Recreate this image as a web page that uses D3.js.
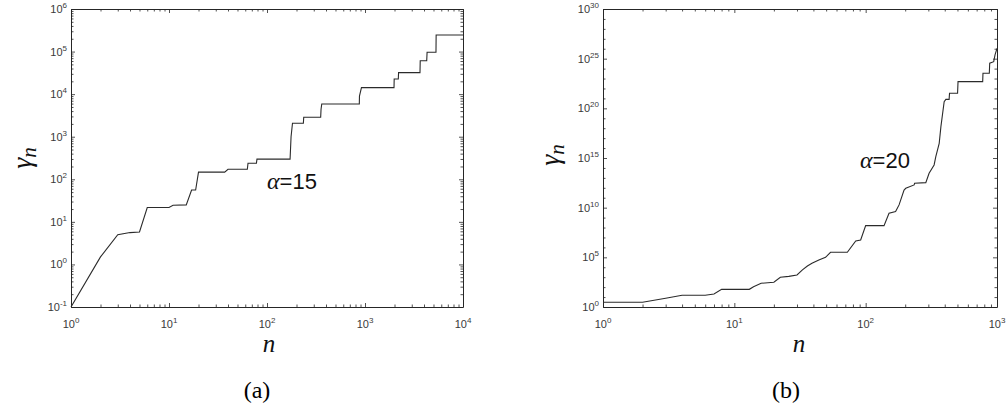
<!DOCTYPE html>
<html>
<head>
<meta charset="utf-8">
<script src="https://d3js.org/d3.v7.min.js"></script>
<style>
body { margin: 0; background: #fff; }
svg { display: block; }
.tick-label { font-family: 'Liberation Sans', Arial, sans-serif; font-size: 11px; fill: #3a3a3a; }
.serif { font-family: 'Liberation Serif', 'Times New Roman', serif; }
</style>
</head>
<body>
<svg width="1006" height="412"></svg>
<script>
// panel (a): alpha = 15
const aN = [1, 2, 3, 4, 5, 6, 10, 11, 15, 17, 18.7, 20, 37, 40, 63, 64, 78, 79, 172, 176, 182, 235, 237, 353, 356, 362, 875, 878, 920, 1977, 1985, 2188, 2200, 3640, 3660, 4264, 4300, 5300, 5320, 10000]
const aGamma = [0.1, 1.5, 5.0, 5.6, 5.8, 21.7, 21.7, 24.5, 25, 56, 56, 147, 147, 172, 172, 239, 239, 297, 297, 1000, 2075, 2075, 2870, 2870, 4420, 5890, 5890, 9000, 14200, 14200, 22750, 22750, 32000, 32000, 61100, 61100, 96400, 96400, 245000, 245000]
const aXTicks = [1, 10, 100, 1000, 10000]
const aYTicks = [1e-1, 1e0, 1e1, 1e2, 1e3, 1e4, 1e5, 1e6]

// panel (b): alpha = 20
const bN = [1, 2, 3, 4, 6, 7, 8, 13, 14, 16, 18, 20, 22.4, 26, 30, 33, 36, 39, 44, 49.5, 54, 72.5, 84, 91.6, 100, 138, 150.6, 169, 179.6, 196, 202, 234, 236, 287, 304, 332, 342, 363, 374, 396, 408, 432, 435, 501, 505, 778, 782, 874, 880, 944, 966, 1000]
const bGamma = [3, 3, 7.5, 15, 15, 20, 60, 60, 110, 245, 280, 310, 980, 1200, 1660, 5400, 13500, 25000, 54000, 1e5, 3.2e5, 3.2e5, 4.5e6, 5.6e6, 1.55e8, 1.55e8, 2.7e9, 4e9, 1.9e10, 6e11, 9e11, 1.95e12, 2.9e12, 3.3e12, 2.9e13, 2e14, 1.4e15, 3e16, 1.45e18, 4.7e20, 8e20, 8e20, 3.3e21, 3.3e21, 4.9e22, 4.9e22, 3.4e23, 3.4e23, 3.5e24, 5e24, 2.4e25, 1.1e26]
const bXTicks = [1, 10, 100, 1000]
const bYTicks = [1e0, 1e5, 1e10, 1e15, 1e20, 1e25, 1e30]

const svg = d3.select('svg')
const axisColor = '#262626'

function exponent(v) { return Math.round(Math.log10(v)) }

function drawPanel(opts) {
	const { left, right, top, bottom, xDomain, yDomain, n, gamma, xTicks, yTicks, yMinor } = opts
	const x = d3.scaleLog().domain(xDomain).range([left, right])
	const y = d3.scaleLog().domain(yDomain).range([bottom, top])

	// minor ticks on x: 2..9 each decade
	const xMinor = []
	for (let e = Math.log10(xDomain[0]); e < Math.log10(xDomain[1]); e++)
		for (let k = 2; k <= 9; k++) xMinor.push(k * Math.pow(10, e))

	const g = svg.append('g')

	const addAxis = (axisFn, scale, ticks, size, tx, ty) => {
		const ax = g.append('g')
			.attr('transform', `translate(${tx},${ty})`)
			.call(axisFn(scale).tickValues(ticks).tickSizeInner(-size).tickSizeOuter(0).tickFormat(''))
		ax.selectAll('line').attr('stroke', axisColor).attr('stroke-width', 0.8)
		ax.select('.domain').attr('stroke', axisColor).attr('stroke-width', 1)
		return ax
	}
	// major + minor, all four sides, ticks inward
	addAxis(d3.axisBottom, x, xTicks, 4, 0, bottom)
	addAxis(d3.axisTop, x, xTicks, 4, 0, top)
	addAxis(d3.axisBottom, x, xMinor, 2.5, 0, bottom).select('.domain').remove()
	addAxis(d3.axisTop, x, xMinor, 2.5, 0, top).select('.domain').remove()
	addAxis(d3.axisLeft, y, yTicks, 4, left, 0)
	addAxis(d3.axisRight, y, yTicks, 4, right, 0)
	addAxis(d3.axisLeft, y, yMinor, 2.5, left, 0).select('.domain').remove()
	addAxis(d3.axisRight, y, yMinor, 2.5, right, 0).select('.domain').remove()

	// tick labels 10^k
	xTicks.forEach(v => {
		const t = g.append('text').attr('class', 'tick-label')
			.attr('x', x(v)).attr('y', bottom + 21).attr('text-anchor', 'middle')
		t.append('tspan').text('10')
		t.append('tspan').attr('dy', -5).style('font-size', '8px').text(exponent(v))
	})
	yTicks.forEach(v => {
		const t = g.append('text').attr('class', 'tick-label')
			.attr('x', left - 4).attr('y', y(v) + 4).attr('text-anchor', 'end')
		t.append('tspan').text('10')
		t.append('tspan').attr('dy', -5).style('font-size', '8px').text(exponent(v))
	})

	const line = d3.line().x(d => x(d[0])).y(d => y(d[1]))
	g.append('path')
		.datum(n.map((v, i) => [v, gamma[i]]))
		.attr('d', line)
		.attr('fill', 'none')
		.attr('stroke', '#2b2b2b')
		.attr('stroke-width', 1.1)

	return { x, y, g }
}

// minor y ticks for (a): 2..9 per decade
const aYMinor = []
for (let e = -1; e < 6; e++) for (let k = 2; k <= 9; k++) aYMinor.push(k * Math.pow(10, e))
// minor y ticks for (b): every decade
const bYMinor = []
for (let e = 1; e < 30; e++) if (e % 5 !== 0) bYMinor.push(Math.pow(10, e))

const pa = drawPanel({ left: 71, right: 463, top: 9, bottom: 307, xDomain: [1, 1e4], yDomain: [1e-1, 1e6],
	n: aN, gamma: aGamma, xTicks: aXTicks, yTicks: aYTicks, yMinor: aYMinor })
const pb = drawPanel({ left: 603, right: 997, top: 9, bottom: 307, xDomain: [1, 1e3], yDomain: [1, 1e30],
	n: bN, gamma: bGamma, xTicks: bXTicks, yTicks: bYTicks, yMinor: bYMinor })

// axis labels
function yLabel(cx, cy) {
	const t = svg.append('text').attr('class', 'serif')
		.attr('transform', `translate(${cx},${cy}) rotate(-90)`)
		.attr('text-anchor', 'middle').style('font-style', 'italic').attr('fill', '#111')
	t.append('tspan').style('font-size', '28px').text('γ')
	t.append('tspan').attr('dy', 5).style('font-size', '21px').text('n')
}
yLabel(31, 158)
yLabel(559, 155)

function xLabel(cx) {
	svg.append('text').attr('class', 'serif').attr('x', cx).attr('y', 352)
		.attr('text-anchor', 'middle').style('font-style', 'italic').style('font-size', '25px')
		.attr('fill', '#111').text('n')
}
xLabel(269)
xLabel(799)

function alphaLabel(x0, y0, val) {
	const t = svg.append('text').attr('x', x0).attr('y', y0).attr('fill', '#111')
	t.append('tspan').attr('class', 'serif').style('font-style', 'italic').style('font-size', '24px').text('α')
	t.append('tspan').style('font-family', "'Liberation Sans', Arial, sans-serif").style('font-size', '22px').text('=' + val)
}
alphaLabel(267, 189, 15)
alphaLabel(860, 168, 20)

function caption(cx, s) {
	svg.append('text').attr('class', 'serif').attr('x', cx).attr('y', 398)
		.attr('text-anchor', 'middle').style('font-size', '24px').attr('fill', '#000').text(s)
}
caption(257, '(a)')
caption(786, '(b)')
</script>
</body>
</html>
